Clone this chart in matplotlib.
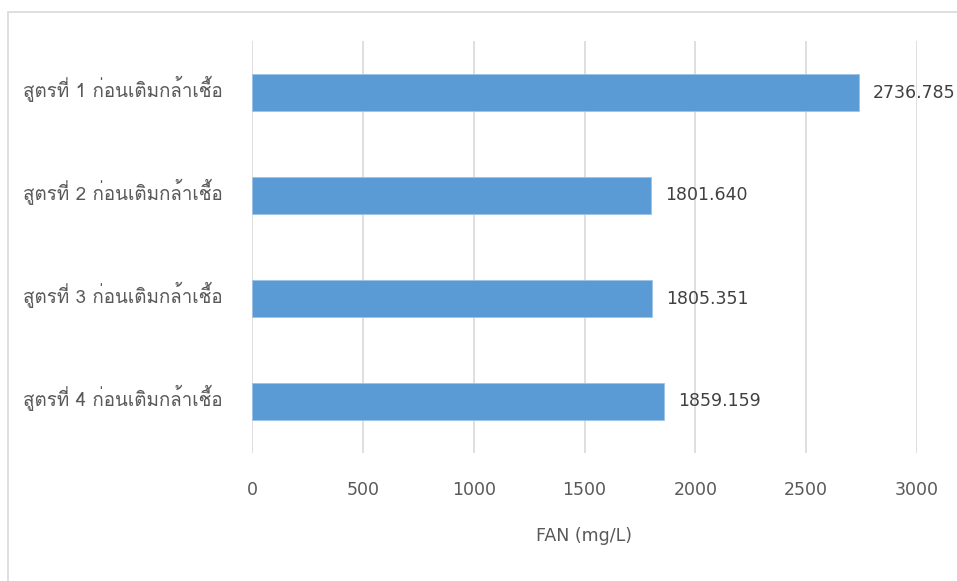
import matplotlib
matplotlib.use("Agg")
import matplotlib.pyplot as plt
import matplotlib.transforms as mtransforms
from matplotlib import font_manager
from matplotlib.ft2font import FT2Font
from matplotlib.patches import Rectangle
import sys

categories = ["สูตรที่ 1 ก่อนเติมกล้าเชื้อ", "สูตรที่ 2 ก่อนเติมกล้าเชื้อ",
              "สูตรที่ 3 ก่อนเติมกล้าเชื้อ", "สูตรที่ 4 ก่อนเติมกล้าเชื้อ"]
values = [2736.785, 1801.640, 1805.351, 1859.159]
value_labels = ["2736.785", "1801.640", "1805.351", "1859.159"]
xticks = [0, 500, 1000, 1500, 2000, 2500, 3000]
xlabel = "FAN (mg/L)"

# find a font covering Thai
need = set(ord(c) for c in "".join(categories) if ord(c) > 127)
thai_family = None
seen = set()
for f in font_manager.fontManager.ttflist:
    if f.fname in seen:
        continue
    seen.add(f.fname)
    try:
        cm = FT2Font(f.fname).get_charmap()
    except Exception:
        continue
    if need.issubset(cm.keys()):
        thai_family = f.name
        print("THAI FONT:", f.name, f.fname, file=sys.stderr)
        break
families = ([thai_family] if thai_family else []) + ["DejaVu Sans"]

W, H = 957, 581
fig = plt.figure(figsize=(W / 100, H / 100), dpi=100)
fig.patch.set_facecolor("white")
fig.patches.append(Rectangle((8 / W, -0.1), 1.2, 1.1 - 12 / H, transform=fig.transFigure,
                             fill=False, edgecolor="#D9D9D9", linewidth=1.2, zorder=0))

ax = fig.add_axes([252 / W, 1 - 453 / H, (917 - 252) / W, (453 - 41) / H])
pos = list(range(len(categories)))
bars = ax.barh(pos, values, height=0.35, color="#5B9BD5", edgecolor="#9DC3E6",
               linewidth=0.6, zorder=3)
ax.set_ylim(len(categories) - 0.5, -0.5)
ax.set_xlim(0, 3000)
ax.set_xticks(xticks)
ax.set_xticklabels([str(t) for t in xticks])
ax.set_yticks(pos)
ax.set_yticklabels(categories, family=families, fontsize=13.5)
ax.tick_params(axis="x", length=0, labelsize=12.5, colors="#595959", pad=20)
ax.tick_params(axis="y", length=0, colors="#595959", pad=21)
ax.grid(axis="x", color="#D9D9D9", linewidth=1.2, zorder=0)
for s in ax.spines.values():
    s.set_visible(False)

shift = mtransforms.ScaledTranslation(0, 4 / 72, fig.dpi_scale_trans)
for lab in ax.get_yticklabels():
    lab.set_transform(lab.get_transform() + shift)

for b, lab in zip(bars, value_labels):
    ax.annotate(lab, (b.get_width(), b.get_y() + b.get_height() / 2),
                xytext=(10, 0), textcoords="offset points", va="center", ha="left",
                fontsize=12.5, color="#404040", annotation_clip=False)

fig.text(584.5 / W, 1 - 536 / H, xlabel, ha="center", va="center",
         fontsize=12.5, color="#595959")

fig.savefig("out.png", dpi=100, facecolor="white")
